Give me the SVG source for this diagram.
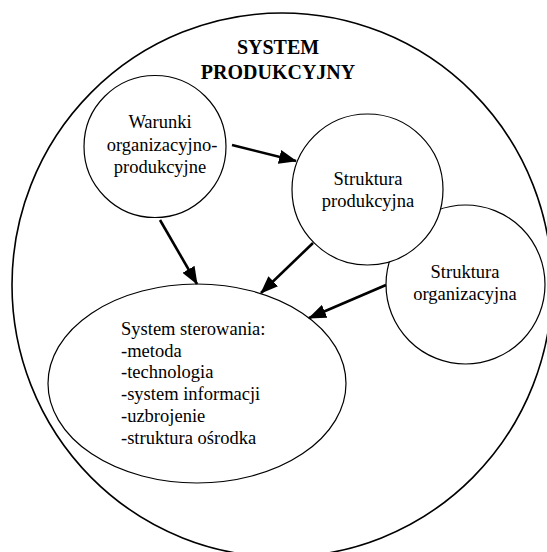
<svg xmlns="http://www.w3.org/2000/svg" width="547" height="552" viewBox="0 0 547 552">
<style>
.bg{fill:#fff}
.shape{fill:#fff;stroke:#000;stroke-width:1.2}
.outer{fill:none;stroke:#000;stroke-width:1.6}
.t{font-size:18.5px;fill:#000}
.c{text-anchor:middle}
.title{font-size:20px;font-weight:bold;text-anchor:middle;fill:#000}
.arr{stroke:#000;stroke-width:2.6;fill:none;marker-end:url(#ah)}
</style>
<defs>
<marker id="ah" markerUnits="userSpaceOnUse" markerWidth="18" markerHeight="14" viewBox="0 0 18 14" refX="17" refY="7" orient="auto">
<path d="M0,0 L18,7 L0,14 Z" fill="#000"/>
</marker>
</defs>
<rect class="bg" x="0" y="0" width="547" height="552"/>
<g font-family="'Liberation Serif', 'Times New Roman', 'DejaVu Serif', serif">
<g id="system-produkcyjny">
<ellipse class="outer" cx="282" cy="285" rx="270" ry="272"/>
<text class="title" x="278" y="54">SYSTEM</text>
<text class="title" x="278" y="79">PRODUKCYJNY</text>
</g>
<g id="system-sterowania">
<ellipse class="shape" cx="197" cy="383.5" rx="149" ry="99.5"/>
<text class="t" x="121" y="335">System sterowania:</text>
<text class="t" x="121" y="356.7">-metoda</text>
<text class="t" x="121" y="378.4">-technologia</text>
<text class="t" x="121" y="400">-system informacji</text>
<text class="t" x="121" y="421.8">-uzbrojenie</text>
<text class="t" x="121" y="443.5">-struktura ośrodka</text>
</g>
<g id="warunki">
<circle class="shape" cx="155" cy="146.5" r="71"/>
<text class="t c" x="160" y="128">Warunki</text>
<text class="t c" x="162" y="150.5">organizacyjno-</text>
<text class="t c" x="160" y="173">produkcyjne</text>
</g>
<g id="struktura-organizacyjna">
<circle class="shape" cx="465.5" cy="284.5" r="79.5"/>
<text class="t c" x="465" y="278">Struktura</text>
<text class="t c" x="465" y="300">organizacyjna</text>
</g>
<g id="struktura-produkcyjna">
<circle class="shape" cx="367.5" cy="189.5" r="75.5"/>
<text class="t c" x="368" y="185">Struktura</text>
<text class="t c" x="368" y="207">produkcyjna</text>
</g>
</g>
<g id="connectors">
<line class="arr" x1="232" y1="145" x2="296" y2="161"/>
<line class="arr" x1="160" y1="220" x2="197" y2="284"/>
<line class="arr" x1="313" y1="243" x2="261" y2="293"/>
<line class="arr" x1="386" y1="285" x2="309" y2="318"/>
</g>
</svg>
